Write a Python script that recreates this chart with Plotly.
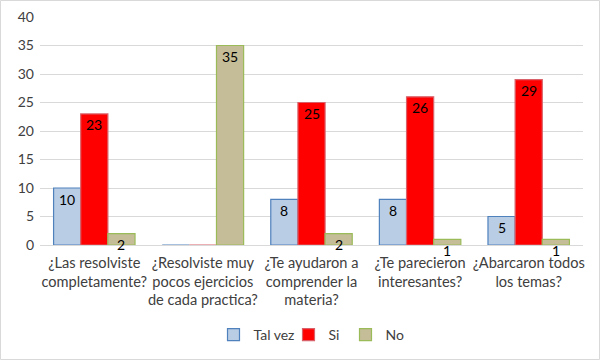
import plotly.graph_objects as go

categories = ["¿Las resolviste<br>completamente?",
              "¿Resolviste muy<br>pocos ejercicios<br>de cada practica?",
              "¿Te ayudaron a<br>comprender la<br>materia?",
              "¿Te parecieron<br>interesantes?",
              "¿Abarcaron todos<br>los temas?"]
series_names = ["Tal vez", "Si", "No"]
tal_vez = [10, 0, 8, 8, 5]
si = [23, 0, 25, 26, 29]
no = [2, 35, 2, 1, 1]

values = [tal_vez, si, no]
fills = ["#B9CDE5", "#FF0000", "#C4BD97"]
borders = ["#4F81BD", "#D9626A", "#9BBB59"]
legend_widths = [30, 12, None]

FONT = "Lato"
bw = 0.25
idx = list(range(len(categories)))

fig = go.Figure()
annotations = []
for k, (name, vals) in enumerate(zip(series_names, values)):
    xs = [i + (k - 1) * bw for i in idx]
    fig.add_trace(go.Bar(
        x=xs, y=vals, width=bw, name=name, hoverinfo="skip",
        legendwidth=legend_widths[k],
        marker=dict(color=fills[k], line=dict(color=borders[k], width=1.2)),
    ))
    for x, v in zip(xs, vals):
        if v > 0:
            annotations.append(dict(x=x, y=v, xref="x", yref="y", text=str(v),
                                    showarrow=False, yshift=-11, yanchor="middle",
                                    font=dict(family=FONT, size=14, color="#000000")))

fig.update_layout(
    width=600, height=360,
    margin=dict(l=40, r=17, t=17, b=115, autoexpand=False),
    paper_bgcolor="white", plot_bgcolor="white",
    showlegend=True, hovermode=False,
    legend=dict(orientation="h", x=0.5, xanchor="center", y=-0.395, yanchor="middle",
                font=dict(family=FONT, size=14, color="#404040"),
                itemwidth=30, traceorder="normal"),
    annotations=annotations,
    font=dict(family=FONT, size=14, color="#404040"),
    bargap=0,
    shapes=[dict(type="rect", xref="paper", yref="paper",
                 x0=-39.5/543, x1=1 + 16.5/543, y0=-114.5/228, y1=1 + 16.5/228,
                 line=dict(color="#D9D9D9", width=1), fillcolor="rgba(0,0,0,0)",
                 layer="below")],
)
fig.update_xaxes(range=[-0.5, 4.5], tickvals=idx, ticktext=categories,
                 showgrid=False, zeroline=False, showline=True, linecolor="#D9D9D9",
                 ticks="", tickangle=0, ticklabelstandoff=4,
                 tickfont=dict(family=FONT, size=14.6, color="#404040"))
fig.update_yaxes(range=[0, 40], dtick=5, showgrid=True, gridcolor="#D9D9D9",
                 zeroline=False, showline=False, ticks="", ticklabelstandoff=5,
                 tickfont=dict(family=FONT, size=14, color="#404040"))

fig.write_html("out.html", config={"displayModeBar": False, "staticPlot": True},
               post_script="document.body.style.margin='0';document.body.style.padding='0';")
